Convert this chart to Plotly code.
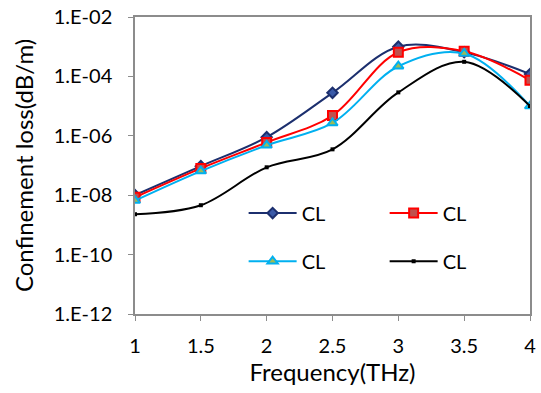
import plotly.graph_objects as go

freq = [1, 1.5, 2, 2.5, 3, 3.5, 4]
cl_navy = [1.0e-8, 9.5e-8, 9.0e-7, 2.8e-5, 1.0e-3, 6.5e-4, 1.2e-4]
cl_red = [8.5e-9, 8.0e-8, 6.0e-7, 4.8e-6, 6.5e-4, 7.0e-4, 7.4e-5]
cl_cyan = [6.6e-9, 6.5e-8, 4.8e-7, 2.7e-6, 2.2e-4, 5.9e-4, 1.0e-5]
cl_black = [2.3e-9, 4.6e-9, 8.7e-8, 3.5e-7, 2.9e-5, 3.1e-4, 1.0e-5]
names = ["CL", "CL", "CL", "CL"]
ytick_vals = [1e-12, 1e-10, 1e-8, 1e-6, 1e-4, 1e-2]
ytick_text = ["1.E-12", "1.E-10", "1.E-08", "1.E-06", "1.E-04", "1.E-02"]
xtick_vals = [1, 1.5, 2, 2.5, 3, 3.5, 4]

FONT = "Lato"
FS = 20
fig = go.Figure()
fig.add_trace(go.Scatter(x=freq, y=cl_navy, name=names[0], mode="lines+markers",
    line=dict(color="#1c2f6e", width=2, shape="spline"),
    marker=dict(symbol="diamond", size=8, color="#3a5aa8", line=dict(color="#1c2f6e", width=2)),
    legend="legend", showlegend=True))
fig.add_trace(go.Scatter(x=freq, y=cl_red, name=names[1], mode="lines+markers",
    line=dict(color="#ff0000", width=2, shape="spline"),
    marker=dict(symbol="square", size=9, color="#c0504d", line=dict(color="#ff0000", width=2)),
    legend="legend2", showlegend=True))
fig.add_trace(go.Scatter(x=freq, y=cl_cyan, name=names[2], mode="lines+markers",
    line=dict(color="#00b0f0", width=2, shape="spline"),
    marker=dict(symbol="triangle-up", size=9, color="#9bbb59", line=dict(color="#00b0f0", width=2)),
    legend="legend3", showlegend=True))
fig.add_trace(go.Scatter(x=freq, y=cl_black, name=names[3], mode="lines+markers",
    line=dict(color="#000000", width=2, shape="spline"),
    marker=dict(symbol="square", size=4, color="#000000"),
    legend="legend4", showlegend=True))

leg = dict(orientation="h", xanchor="left", yanchor="middle", bgcolor="rgba(0,0,0,0)",
           font=dict(family=FONT, size=FS, color="#000"), itemwidth=48)
fig.update_layout(
    width=541, height=393,
    showlegend=True,
    margin=dict(l=135, r=11, t=17, b=79, autoexpand=False),
    paper_bgcolor="white", plot_bgcolor="white",
    font=dict(family=FONT, size=FS, color="#000"),
    legend=dict(leg, x=0.275, y=0.34),
    legend2=dict(leg, x=0.632, y=0.34),
    legend3=dict(leg, x=0.275, y=0.178),
    legend4=dict(leg, x=0.632, y=0.178),
    xaxis=dict(range=[1, 4], tickvals=xtick_vals, ticks="outside", ticklen=5,
               tickcolor="#8c8c8c", showline=True, linecolor="#8c8c8c", linewidth=1.5,
               mirror=True, showgrid=False, zeroline=False, ticklabelstandoff=8,
               automargin=False,
               title=dict(text="Frequency(THz)", standoff=4),
               tickfont=dict(size=FS)),
    yaxis=dict(type="log", range=[-12, -2], tickvals=ytick_vals, ticktext=ytick_text,
               ticks="outside", ticklen=5, tickcolor="#8c8c8c", showline=True,
               linecolor="#8c8c8c", linewidth=1.5, mirror=True, showgrid=False,
               zeroline=False, ticklabelstandoff=12, automargin=False,
               title=dict(text="Confinement loss(dB/m)", standoff=13),
               tickfont=dict(size=FS)),
)
fig.write_html("out.html")
